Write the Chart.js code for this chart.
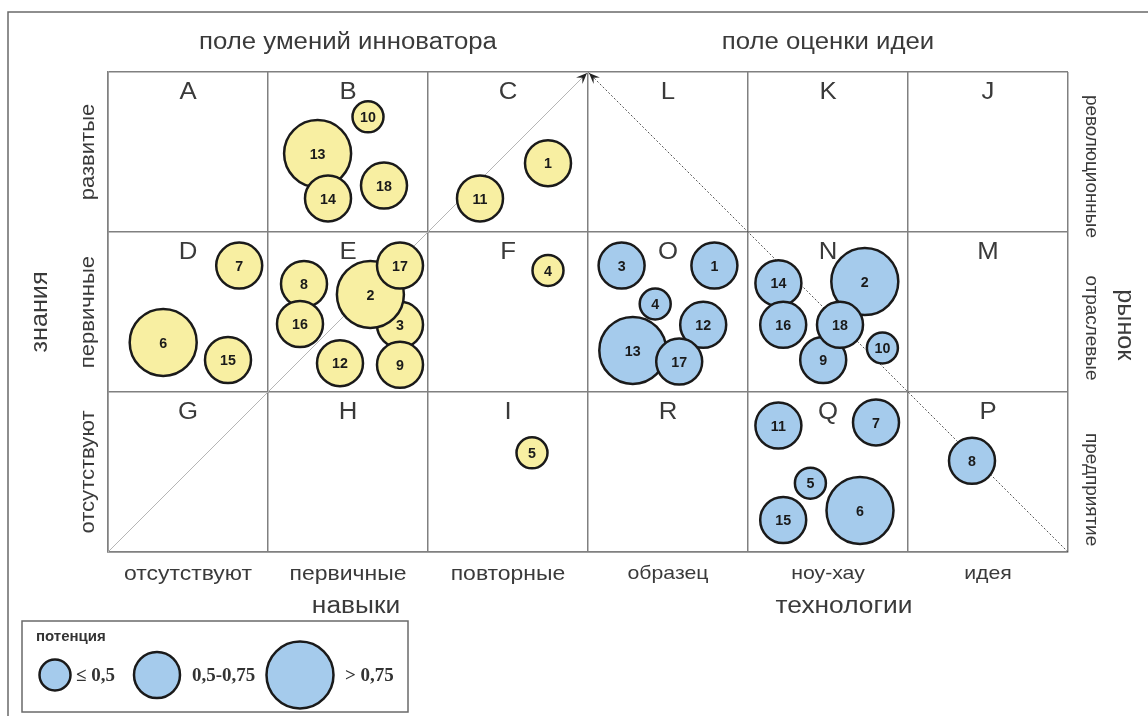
<!DOCTYPE html>
<html>
<head>
<meta charset="utf-8">
<script src="https://cdn.jsdelivr.net/npm/chart.js@4.4.1/dist/chart.umd.min.js"></script>
<style>
  html, body { margin: 0; padding: 0; background: #fff; }
  #wrap { width: 1148px; height: 716px; }
</style>
</head>
<body>
<div id="wrap"><canvas id="chart" width="1148" height="716"></canvas></div>
<script>
// cell letters, rows from top to bottom
const cellLetters = [
  ['A', 'B', 'C', 'L', 'K', 'J'],
  ['D', 'E', 'F', 'O', 'N', 'M'],
  ['G', 'H', 'I', 'R', 'Q', 'P']
];
const xLabels = ['отсутствуют', 'первичные', 'повторные', 'образец', 'ноу-хау', 'идея'];
const leftLabels = ['отсутствуют', 'первичные', 'развитые'];      // bottom -> top
const rightLabels = ['предприятие', 'отраслевые', 'революционные']; // bottom -> top
const potLabels = ['≤ 0,5', '0,5-0,75', '> 0,75'];

// yellow: поле умений инноватора
const skillIds = [10, 13, 14, 18, 1, 11, 7, 6, 15, 8, 16, 3, 2, 9, 17, 12, 4, 5];
const skillX = [1.625, 1.31, 1.375, 1.725, 2.75, 2.325, 0.82, 0.345, 0.75, 1.225, 1.20, 1.825, 1.64, 1.825, 1.825, 1.45, 2.75, 2.65];
const skillY = [2.72, 2.49, 2.21, 2.29, 2.43, 2.21, 1.79, 1.31, 1.20, 1.675, 1.425, 1.42, 1.61, 1.17, 1.79, 1.18, 1.76, 0.62];
const skillPot = [1, 3, 2, 2, 2, 2, 2, 3, 2, 2, 2, 2, 3, 2, 2, 2, 1, 1];

// blue: поле оценки идеи
const techIds = [3, 1, 4, 12, 13, 17, 14, 16, 2, 9, 18, 10, 11, 7, 5, 15, 6, 8];
const techX = [3.21, 3.79, 3.42, 3.72, 3.28, 3.57, 4.19, 4.22, 4.73, 4.47, 4.575, 4.84, 4.19, 4.80, 4.39, 4.22, 4.70, 5.40];
const techY = [1.79, 1.79, 1.55, 1.42, 1.26, 1.19, 1.68, 1.42, 1.69, 1.20, 1.42, 1.275, 0.79, 0.81, 0.43, 0.20, 0.26, 0.57];
const techPot = [2, 2, 1, 2, 3, 2, 2, 2, 3, 2, 2, 1, 2, 2, 1, 2, 3, 2];

const radiusFor = [0, 15.5, 23, 33.5];
const SANS = '"Liberation Sans", Arial, sans-serif';
const SERIF = '"Liberation Serif", "Times New Roman", serif';
const yellow = '#f8efa2';
const blue = '#a5cbec';
const STRETCH = 1.12; // the original lettering is a bit wider than Arial

function makePoints(xs, ys, pots) {
  return xs.map((x, i) => ({ x: x, y: ys[i], r: radiusFor[pots[i]] }));
}

function text(ctx, str, x, y, font, rot, sx) {
  ctx.save();
  ctx.translate(x, y);
  if (rot) ctx.rotate(rot);
  ctx.scale(sx || 1, 1);
  ctx.font = font;
  ctx.textAlign = 'center';
  ctx.textBaseline = 'middle';
  ctx.fillText(str, 0, 0);
  ctx.restore();
}

function arrowHead(ctx, x, y, dx, dy) {
  const len = 11, w = 4.5;
  const px = -dy, py = dx;
  ctx.beginPath();
  ctx.moveTo(x, y);
  ctx.lineTo(x - dx * len + px * w, y - dy * len + py * w);
  ctx.lineTo(x - dx * len * 0.6, y - dy * len * 0.6);
  ctx.lineTo(x - dx * len - px * w, y - dy * len - py * w);
  ctx.closePath();
  ctx.fillStyle = '#222';
  ctx.fill();
}

const decor = {
  id: 'decor',
  beforeDatasetsDraw(chart) {
    const ctx = chart.ctx;
    const xs = chart.scales.x, ys = chart.scales.y;
    ctx.save();
    ctx.fillStyle = '#3a3a3a';
    // cell letters
    cellLetters.forEach((row, r) => {
      row.forEach((l, c) => {
        const cx = xs.getPixelForValue(c + 0.5);
        const top = ys.getPixelForValue(3 - r);
        text(ctx, l, cx, top + 21, '23px ' + SANS, 0, STRETCH);
      });
    });
    ctx.restore();
  },
  afterDraw(chart) {
    const ctx = chart.ctx;
    const xs = chart.scales.x, ys = chart.scales.y;
    const a = chart.chartArea;
    ctx.save();

    // outer frame
    ctx.strokeStyle = '#6a6a6a';
    ctx.lineWidth = 1.5;
    ctx.beginPath();
    ctx.moveTo(8, 716);
    ctx.lineTo(8, 12);
    ctx.lineTo(1148, 12);
    ctx.stroke();

    // arrowheads at apex
    const apx = xs.getPixelForValue(3), apy = ys.getPixelForValue(3);
    arrowHead(ctx, apx - 1, apy + 1, Math.SQRT1_2, -Math.SQRT1_2);
    arrowHead(ctx, apx + 1, apy + 1, -Math.SQRT1_2, -Math.SQRT1_2);

    // bubble numbers
    ctx.fillStyle = '#1a1a1a';
    [0, 1].forEach(di => {
      const ids = di === 0 ? skillIds : techIds;
      chart.getDatasetMeta(di).data.forEach((el, i) => {
        text(ctx, String(ids[i]), el.x, el.y + 1, 'bold 15px ' + SANS, 0, 0.95);
      });
    });

    ctx.fillStyle = '#3a3a3a';
    // top titles
    text(ctx, 'поле умений инноватора', xs.getPixelForValue(1.5), 43, '23px ' + SANS, 0, STRETCH);
    text(ctx, 'поле оценки идеи', xs.getPixelForValue(4.5), 43, '23px ' + SANS, 0, STRETCH);

    // x category labels
    xLabels.forEach((l, i) => {
      const f = i < 3 ? '20.5px ' : '19px ';
      text(ctx, l, xs.getPixelForValue(i + 0.5), a.bottom + 22, f + SANS, 0, STRETCH);
    });
    text(ctx, 'навыки', xs.getPixelForValue(1.55), 607, '23.5px ' + SANS, 0, STRETCH);
    text(ctx, 'технологии', xs.getPixelForValue(4.6), 607, '23.5px ' + SANS, 0, STRETCH);

    // left labels
    leftLabels.forEach((l, i) => {
      text(ctx, l, 88, ys.getPixelForValue(i + 0.5), '21px ' + SANS, -Math.PI / 2, 1.05);
    });
    text(ctx, 'знания', 40, ys.getPixelForValue(1.5), '24px ' + SANS, -Math.PI / 2, 1.05);

    // right labels
    const rightPos = [0.39, 1.4, 2.41];
    rightLabels.forEach((l, i) => {
      text(ctx, l, a.right + 23, ys.getPixelForValue(rightPos[i]), '18px ' + SANS, Math.PI / 2, 1.05);
    });
    text(ctx, 'рынок', a.right + 57, ys.getPixelForValue(1.42), '24px ' + SANS, Math.PI / 2, 1.05);

    // legend box
    ctx.strokeStyle = '#6a6a6a';
    ctx.lineWidth = 1.5;
    ctx.strokeRect(22, 621, 386, 91);
    ctx.fillStyle = '#333';
    ctx.font = 'bold 15px ' + SANS;
    ctx.textAlign = 'left';
    ctx.textBaseline = 'middle';
    ctx.fillText('потенция', 36, 637);
    const legX = [55, 157, 300];
    const legT = [76, 192, 345];
    potLabels.forEach((l, i) => {
      ctx.beginPath();
      ctx.arc(legX[i], 675, radiusFor[i + 1], 0, Math.PI * 2);
      ctx.fillStyle = blue;
      ctx.fill();
      ctx.lineWidth = 2.5;
      ctx.strokeStyle = '#1a1a1a';
      ctx.stroke();
      ctx.fillStyle = '#333';
      ctx.font = 'bold 19px ' + SERIF;
      ctx.textAlign = 'left';
      ctx.fillText(l, legT[i], 676);
    });
    ctx.restore();
  }
};

const ctx = document.getElementById('chart').getContext('2d');
new Chart(ctx, {
  type: 'bubble',
  data: {
    datasets: [
      {
        label: 'навыки',
        data: makePoints(skillX, skillY, skillPot),
        backgroundColor: yellow,
        borderColor: '#1a1a1a',
        borderWidth: 2.5,
        order: 1
      },
      {
        label: 'технологии',
        data: makePoints(techX, techY, techPot),
        backgroundColor: blue,
        borderColor: '#1a1a1a',
        borderWidth: 2.5,
        order: 1
      },
      {
        type: 'line',
        label: 'diag1',
        data: [{ x: 0, y: 0 }, { x: 3, y: 3 }],
        borderColor: '#b5b5b5',
        borderWidth: 1,
        pointRadius: 0,
        fill: false,
        order: 2
      },
      {
        type: 'line',
        label: 'diag2',
        data: [{ x: 6, y: 0 }, { x: 3, y: 3 }],
        borderColor: '#555',
        borderWidth: 1,
        borderDash: [2, 2],
        pointRadius: 0,
        fill: false,
        order: 2
      }
    ]
  },
  options: {
    responsive: false,
    animation: false,
    devicePixelRatio: 1,
    layout: { padding: { left: 108, top: 72, right: 80, bottom: 164 } },
    plugins: { legend: { display: false }, tooltip: { enabled: false } },
    scales: {
      x: {
        type: 'linear', min: 0, max: 6,
        ticks: { display: false, stepSize: 1 },
        grid: { color: '#808080', lineWidth: 1.5, drawTicks: false },
        border: { color: '#808080', width: 1.5 }
      },
      y: {
        type: 'linear', min: 0, max: 3,
        ticks: { display: false, stepSize: 1 },
        grid: { color: '#808080', lineWidth: 1.5, drawTicks: false },
        border: { color: '#808080', width: 1.5 }
      }
    }
  },
  plugins: [decor]
});
</script>
</body>
</html>
